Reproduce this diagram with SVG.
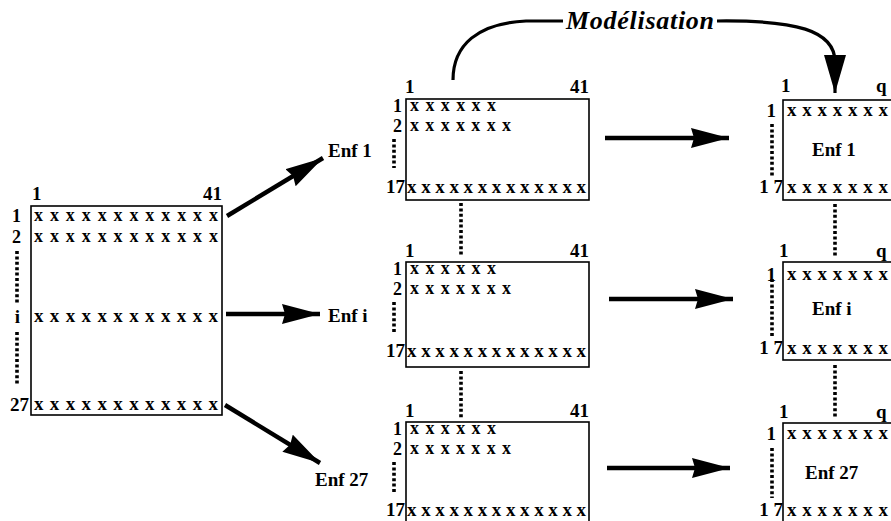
<svg xmlns="http://www.w3.org/2000/svg" width="891" height="521" viewBox="0 0 891 521">
  <style>
    text { font-family: "Liberation Serif", "Times New Roman", serif; font-weight: bold; font-size: 19px; fill: #000; }
    .end { text-anchor: end; }
    .row { font-size: 18px; }
    .title { font-style: italic; font-size: 26px; }
    .box { fill: #fff; stroke: #000; stroke-width: 1.6; }
    .dots { fill: none; stroke: #000; stroke-width: 3.6; stroke-dasharray: 3 2.4; }
    .arrow { fill: none; stroke: #000; stroke-width: 4.4; marker-end: url(#head); }
    .curve { fill: none; stroke: #000; stroke-width: 3.2; }
  </style>
  <defs>
    <marker id="head" markerUnits="userSpaceOnUse" markerWidth="40" markerHeight="22" refX="38" refY="10" orient="auto">
      <path d="M0,0 L38,10 L0,20 L3,10 Z" fill="#000"/>
    </marker>
    <marker id="headDown" markerUnits="userSpaceOnUse" markerWidth="40" markerHeight="24" refX="38" refY="11" orient="auto">
      <path d="M0,0 L38,11 L0,22 Z" fill="#000"/>
    </marker>
  </defs>

  <!-- source table: 27 rows x 41 columns -->
  <g id="source">
    <rect class="box" x="31" y="206" width="191" height="209"/>
    <text x="32" y="200">1</text>
    <text class="end" x="222" y="200">41</text>
    <text class="end row" x="21" y="222">1</text>
    <text class="row" x="34" y="221" textLength="184" lengthAdjust="spacing">xxxxxxxxxxxx</text>
    <text class="end row" x="21" y="243">2</text>
    <text class="row" x="34" y="242" textLength="184" lengthAdjust="spacing">xxxxxxxxxxxx</text>
    <line class="dots" x1="17" y1="251" x2="17" y2="303"/>
    <text class="end" x="20" y="323">i</text>
    <text x="34" y="322" textLength="184" lengthAdjust="spacing">xxxxxxxxxxxx</text>
    <line class="dots" x1="17" y1="332" x2="17" y2="385"/>
    <text class="end" x="29" y="411">27</text>
    <text x="34" y="410" textLength="184" lengthAdjust="spacing">xxxxxxxxxxxx</text>
  </g>

  <!-- per-child tables: 17 rows x 41 columns -->
  <g id="child-1">
    <text x="328" y="157">Enf 1</text>
    <rect class="box" x="406" y="99" width="183" height="101"/>
    <text x="405" y="93">1</text>
    <text class="end" x="589" y="93">41</text>
    <text class="end row" x="402" y="112">1</text>
    <text class="row" x="410" y="111" textLength="86" lengthAdjust="spacing">xxxxxx</text>
    <text class="end row" x="402" y="132">2</text>
    <text class="row" x="410" y="131" textLength="101" lengthAdjust="spacing">xxxxxxx</text>
    <line class="dots" x1="394" y1="139" x2="394" y2="168"/>
    <text class="end" x="405" y="193">17</text>
    <text x="407" y="193" textLength="179" lengthAdjust="spacing">xxxxxxxxxxxxx</text>
  </g>

  <g id="child-i">
    <text x="328" y="322">Enf i</text>
    <rect class="box" x="406" y="262" width="183" height="105"/>
    <text x="405" y="257">1</text>
    <text class="end" x="589" y="257">41</text>
    <text class="end row" x="402" y="275">1</text>
    <text class="row" x="410" y="274" textLength="86" lengthAdjust="spacing">xxxxxx</text>
    <text class="end row" x="402" y="295">2</text>
    <text class="row" x="410" y="294" textLength="101" lengthAdjust="spacing">xxxxxxx</text>
    <line class="dots" x1="394" y1="302" x2="394" y2="333"/>
    <text class="end" x="405" y="357">17</text>
    <text x="407" y="357" textLength="179" lengthAdjust="spacing">xxxxxxxxxxxxx</text>
  </g>

  <g id="child-27">
    <text x="315" y="486">Enf 27</text>
    <rect class="box" x="406" y="422" width="183" height="104"/>
    <text x="405" y="417">1</text>
    <text class="end" x="589" y="417">41</text>
    <text class="end row" x="402" y="435">1</text>
    <text class="row" x="410" y="434" textLength="86" lengthAdjust="spacing">xxxxxx</text>
    <text class="end row" x="402" y="455">2</text>
    <text class="row" x="410" y="454" textLength="101" lengthAdjust="spacing">xxxxxxx</text>
    <line class="dots" x1="394" y1="462" x2="394" y2="493"/>
    <text class="end" x="405" y="516">17</text>
    <text x="407" y="516" textLength="179" lengthAdjust="spacing">xxxxxxxxxxxxx</text>
  </g>

  <!-- modelled tables: 17 rows x q columns -->
  <g id="model-1">
    <rect class="box" x="783" y="100" width="120" height="100"/>
    <text x="781" y="92">1</text>
    <text x="876" y="92">q</text>
    <text class="end" x="776" y="117">1</text>
    <text x="787" y="116" textLength="101" lengthAdjust="spacing">xxxxxxx</text>
    <text x="812" y="156">Enf 1</text>
    <line class="dots" x1="772" y1="124" x2="772" y2="177"/>
    <text class="end" x="783" y="193">1 7</text>
    <text x="787" y="193" textLength="101" lengthAdjust="spacing">xxxxxxx</text>
  </g>

  <g id="model-i">
    <rect class="box" x="783" y="262" width="120" height="98"/>
    <text x="779" y="257">1</text>
    <text x="876" y="257">q</text>
    <text class="end" x="776" y="281">1</text>
    <text x="787" y="280" textLength="101" lengthAdjust="spacing">xxxxxxx</text>
    <text x="812" y="315">Enf i</text>
    <line class="dots" x1="772" y1="279" x2="772" y2="338"/>
    <text class="end" x="783" y="354">1 7</text>
    <text x="787" y="354" textLength="101" lengthAdjust="spacing">xxxxxxx</text>
  </g>

  <g id="model-27">
    <rect class="box" x="783" y="423" width="120" height="104"/>
    <text x="779" y="418">1</text>
    <text x="876" y="418">q</text>
    <text class="end" x="776" y="440">1</text>
    <text x="787" y="439" textLength="101" lengthAdjust="spacing">xxxxxxx</text>
    <text x="805" y="479">Enf 27</text>
    <line class="dots" x1="772" y1="448" x2="772" y2="498"/>
    <text class="end" x="783" y="516">1 7</text>
    <text x="787" y="516" textLength="101" lengthAdjust="spacing">xxxxxxx</text>
  </g>

  <g id="title">
    <text class="title" x="566" y="29" textLength="148" lengthAdjust="spacing">Modélisation</text>
  </g>

  <g id="connectors">
    <!-- split by child -->
    <path class="arrow" d="M227,216 L323,158"/>
    <path class="arrow" d="M226,314 L320,314"/>
    <path class="arrow" d="M225,405 L320,463"/>
    <!-- modelling step -->
    <path class="arrow" d="M605,138 L729,138"/>
    <path class="arrow" d="M609,299 L733,299"/>
    <path class="arrow" d="M607,468 L730,468"/>
    <!-- continuation between stacked tables -->
    <line class="dots" x1="461" y1="203" x2="461" y2="256"/>
    <line class="dots" x1="461" y1="371" x2="461" y2="419"/>
    <line class="dots" x1="835" y1="204" x2="835" y2="256"/>
    <line class="dots" x1="835" y1="365" x2="835" y2="419"/>
    <!-- Modélisation arc -->
    <path class="curve" d="M453,80 C453,45 478,23 526,21 L563,21"/>
    <path class="curve" d="M717,21 C795,20 835,30 835,62 L835,93" marker-end="url(#headDown)"/>
  </g>
</svg>
